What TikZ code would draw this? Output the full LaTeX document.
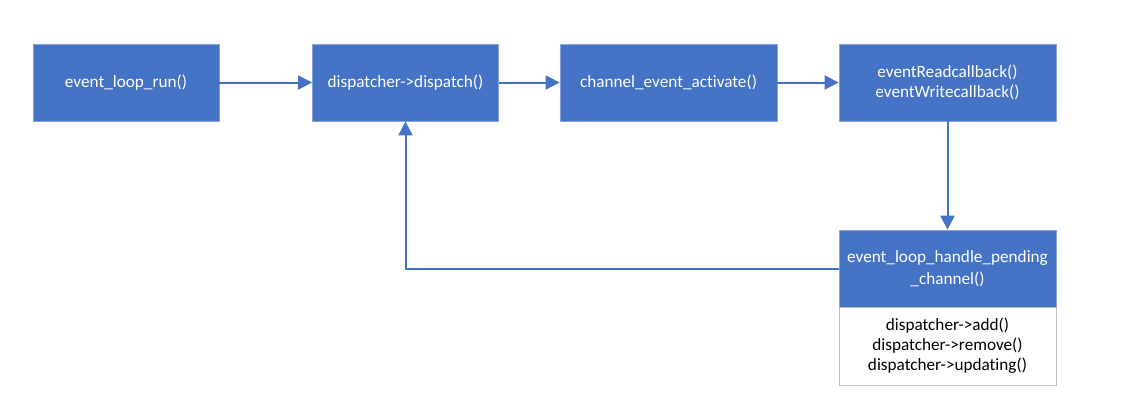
\documentclass[tikz,border=0pt]{standalone}
\usepackage{fontspec}
\setmainfont{Carlito}[Ligatures=NoCommon]
\usetikzlibrary{arrows.meta}
\definecolor{officeblue}{HTML}{4472C4}
\definecolor{listedge}{HTML}{BFBFBF}
\tikzset{
  func/.style={fill=officeblue, draw=officeblue!65!white, line width=0.8pt,
    text=white, align=center, inner sep=0pt, minimum height=77pt,
    font=\fontsize{17.2}{20}\selectfont},
  oplist/.style={fill=white, draw=listedge, line width=0.8pt,
    align=center, inner sep=0pt, font=\fontsize{17.2}{20}\selectfont},
  flow/.style={draw=officeblue, line width=2pt,
    -{Triangle[length=14pt,width=14pt]}}
}
\begin{document}
\begin{tikzpicture}[x=1pt,y=-1pt]
  \useasboundingbox (0,0) rectangle (1131,415);
  \node[func,minimum width=186pt] (run) at (126,82.5) {event\_loop\_run()};
  \node[func,minimum width=186pt] (dispatch) at (405.5,82.5)
    {dispatcher->dispatch()};
  \node[func,minimum width=217pt] (activate) at (668.5,82.5)
    {channel\_event\_activate()};
  \node[func,minimum width=217pt] (callback) at (947.5,82.5)
    {eventReadcallback()\\eventWritecallback()};
  \node[func,minimum width=217pt,font=\fontsize{17.2}{22}\selectfont] (pending)
    at (947.5,268.5) {event\_loop\_handle\_pending\\\_channel()};
  \node[oplist,minimum width=217pt,minimum height=78pt] (ops) at (947.5,346)
    {dispatcher->add()\\dispatcher->remove()\\dispatcher->updating()};
  \draw[flow] (run) -- (dispatch);
  \draw[flow] (dispatch) -- (activate);
  \draw[flow] (activate) -- (callback);
  \draw[flow] (callback) -- (pending);
  \draw[flow] (pending.west) -| (dispatch.south);
\end{tikzpicture}
\end{document}
